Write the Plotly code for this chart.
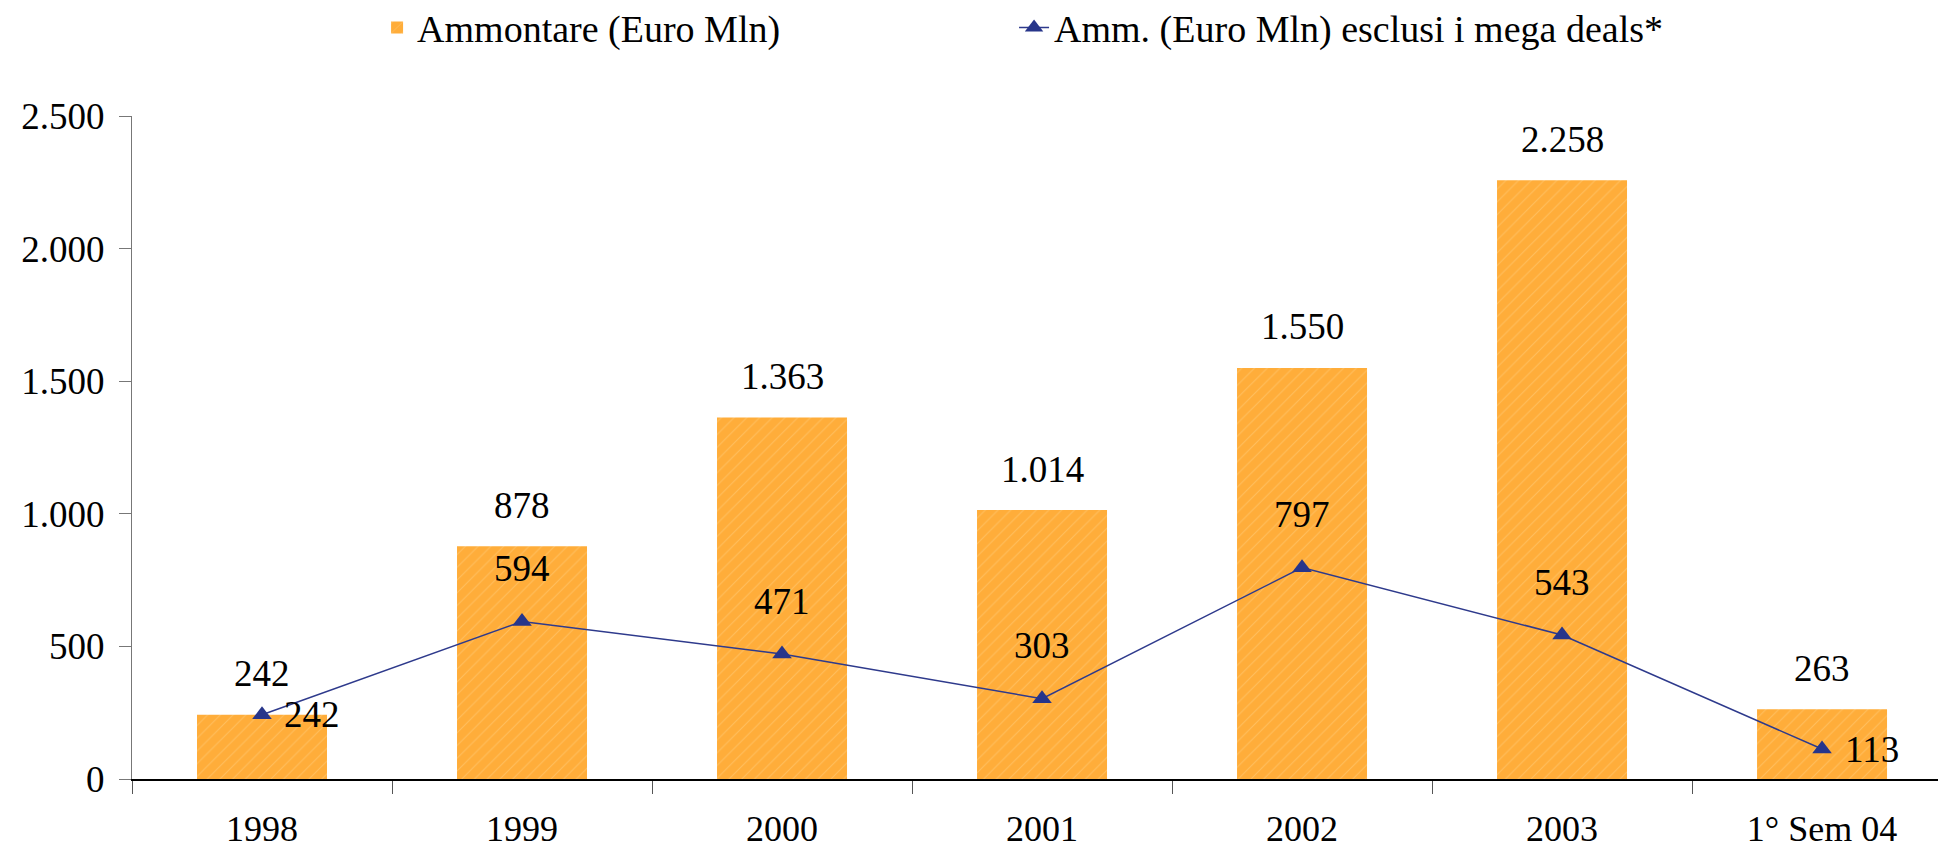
import plotly.graph_objects as go

categories = ["1998", "1999", "2000", "2001", "2002", "2003", "1° Sem 04"]
ammontare = [242, 878, 1363, 1014, 1550, 2258, 263]
esclusi_mega = [242, 594, 471, 303, 797, 543, 113]
y_ticks = [0, 500, 1000, 1500, 2000, 2500]

name_bar = "Ammontare (Euro Mln)"
name_line = "Amm. (Euro Mln) esclusi i mega deals*"

FONT = "Liberation Serif"


def fmt(v):
    return f"{v:,}".replace(",", ".")


fig = go.Figure()
fig.add_trace(go.Bar(
    x=categories, y=ammontare, name=name_bar, width=0.5,
    marker=dict(color="#FFAD3A", line=dict(width=0),
                pattern=dict(shape="/", fgcolor="#FFD58C", fgopacity=0.45,
                             size=9, solidity=0.12)),
    legend="legend",
))
fig.add_trace(go.Scatter(
    x=categories, y=esclusi_mega, name=name_line, mode="lines+markers",
    line=dict(color="#2E3A8C", width=1.5),
    marker=dict(symbol="triangle-up", size=17, color="#27358A"),
    legend="legend2",
))

annotations = []
for i, v in enumerate(ammontare):
    annotations.append(dict(x=i, y=v, xref="x", yref="y", text=fmt(v), showarrow=False,
                            yshift=41, font=dict(family=FONT, size=37, color="black")))
last = len(categories) - 1
for i, v in enumerate(esclusi_mega):
    if i == 0 or i == last:
        annotations.append(dict(x=i, y=v, xref="x", yref="y", text=fmt(v), showarrow=False,
                                xshift=50, yshift=0,
                                font=dict(family=FONT, size=37, color="black")))
    else:
        annotations.append(dict(x=i, y=v, xref="x", yref="y", text=fmt(v), showarrow=False,
                                yshift=53, font=dict(family=FONT, size=37, color="black")))

fig.update_layout(
    width=1938, height=853, autosize=False,
    margin=dict(l=132, r=0, t=116, b=74, autoexpand=False),
    plot_bgcolor="white", paper_bgcolor="white",
    separators=",.",
    font=dict(family=FONT, size=37, color="black"),
    showlegend=True,
    legend=dict(x=0.1357, y=1.133, xanchor="left", yanchor="middle",
                orientation="h", bgcolor="rgba(0,0,0,0)", borderwidth=0,
                font=dict(family=FONT, size=38, color="black")),
    legend2=dict(x=0.4884, y=1.133, xanchor="left", yanchor="middle",
                 orientation="h", bgcolor="rgba(0,0,0,0)", borderwidth=0,
                 font=dict(family=FONT, size=38, color="black")),
    annotations=annotations,
    xaxis=dict(type="category", range=[-0.5, 6.446],
               showline=True, linecolor="black", linewidth=1.5,
               ticks="outside", tickson="boundaries", ticklen=13,
               tickcolor="#555555", tickwidth=1.2,
               ticklabelstandoff=17,
               tickfont=dict(family=FONT, size=36, color="black"),
               showgrid=False, zeroline=False),
    yaxis=dict(range=[0, 2500], tickvals=y_ticks, tickformat=",.0f",
               showline=True, linecolor="#777777", linewidth=1.2,
               ticks="outside", ticklen=12, tickcolor="#777777", tickwidth=1.2,
               ticklabelstandoff=7,
               tickfont=dict(family=FONT, size=37, color="black"),
               showgrid=False, zeroline=False),
)

fig.write_html("out.html", config={"displayModeBar": False},
               post_script="document.body.style.margin='0px';")
